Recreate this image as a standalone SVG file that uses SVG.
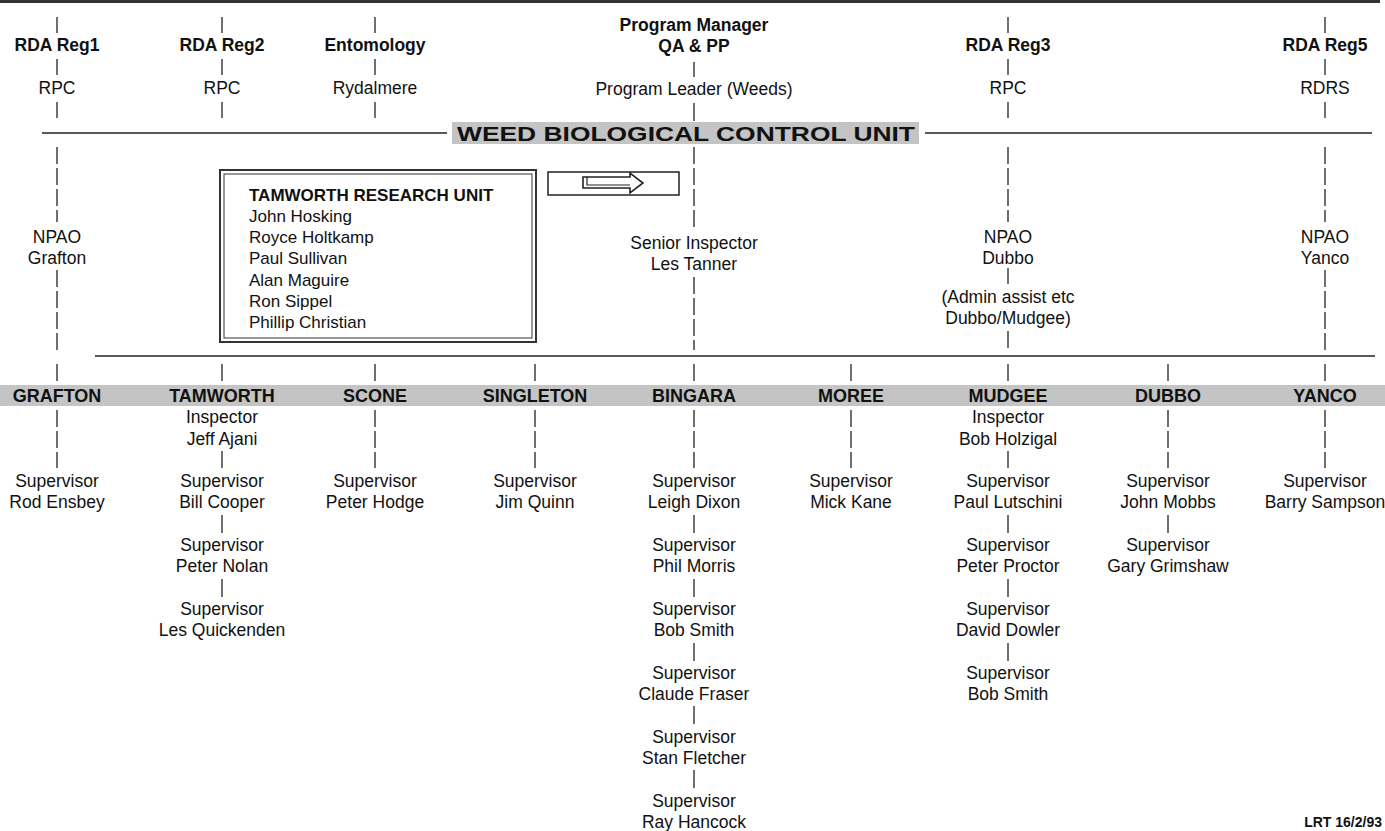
<svg xmlns="http://www.w3.org/2000/svg" width="1385" height="831" viewBox="0 0 1385 831">
<defs>
<style>
.t{font-family:"Liberation Sans",Arial,sans-serif;font-size:17.5px;fill:#111;text-anchor:middle}
.b{font-weight:bold}
.bl{font-weight:bold;font-size:18px}
.l{text-anchor:start;font-size:17px}
#connectors line{stroke:#222;stroke-width:1.3;fill:none}
#connectors line.d{stroke-dasharray:17 4}
.shade{fill:#c4c4c4}
</style>
</defs>
<rect width="1385" height="831" fill="#fff"/>
<rect x="0" y="0" width="1380" height="3" fill="#333"/>

<g id="connectors">
  <!-- top ticks -->
  <line x1="57" y1="17" x2="57" y2="33"/><line x1="57" y1="59" x2="57" y2="75"/><line x1="57" y1="102" x2="57" y2="118"/>
  <line x1="222" y1="17" x2="222" y2="33"/><line x1="222" y1="59" x2="222" y2="75"/><line x1="222" y1="102" x2="222" y2="118"/>
  <line x1="375" y1="17" x2="375" y2="33"/><line x1="375" y1="59" x2="375" y2="75"/><line x1="375" y1="102" x2="375" y2="118"/>
  <line x1="1008" y1="17" x2="1008" y2="33"/><line x1="1008" y1="59" x2="1008" y2="75"/><line x1="1008" y1="102" x2="1008" y2="118"/>
  <line x1="1325" y1="17" x2="1325" y2="33"/><line x1="1325" y1="59" x2="1325" y2="75"/><line x1="1325" y1="102" x2="1325" y2="118"/>
  <line x1="694" y1="62" x2="694" y2="77"/><line x1="694" y1="103" x2="694" y2="121"/>
  <!-- divider 1 -->
  <line x1="42" y1="133" x2="447" y2="133"/>
  <line x1="925" y1="133" x2="1372" y2="133"/>
  <!-- middle verticals -->
  <line class="d" x1="57" y1="147" x2="57" y2="222"/><line class="d" x1="57" y1="270" x2="57" y2="350"/>
  <line class="d" x1="694" y1="147" x2="694" y2="228"/><line class="d" x1="694" y1="277" x2="694" y2="350"/>
  <line class="d" x1="1325" y1="147" x2="1325" y2="222"/><line class="d" x1="1325" y1="270" x2="1325" y2="350"/>
  <line class="d" x1="1008" y1="147" x2="1008" y2="222"/><line x1="1008" y1="268" x2="1008" y2="284"/><line x1="1008" y1="331" x2="1008" y2="348"/>
  <!-- divider 2 -->
  <line x1="95" y1="356" x2="1375" y2="356"/>
  <!-- ticks above location band -->
  <line x1="57" y1="364" x2="57" y2="381"/><line x1="222" y1="364" x2="222" y2="381"/><line x1="375" y1="364" x2="375" y2="381"/>
  <line x1="535" y1="364" x2="535" y2="381"/><line x1="694" y1="364" x2="694" y2="381"/><line x1="851" y1="364" x2="851" y2="381"/>
  <line x1="1008" y1="364" x2="1008" y2="381"/><line x1="1168" y1="364" x2="1168" y2="381"/><line x1="1325" y1="364" x2="1325" y2="381"/>
  <!-- below band -->
  <line class="d" x1="57" y1="410" x2="57" y2="468"/>
  <line class="d" x1="375" y1="410" x2="375" y2="468"/>
  <line class="d" x1="535" y1="410" x2="535" y2="468"/>
  <line class="d" x1="694" y1="410" x2="694" y2="468"/>
  <line class="d" x1="851" y1="410" x2="851" y2="468"/>
  <line class="d" x1="1168" y1="410" x2="1168" y2="468"/>
  <line class="d" x1="1325" y1="410" x2="1325" y2="468"/>
  <line x1="222" y1="451" x2="222" y2="468"/><line x1="1008" y1="451" x2="1008" y2="468"/>
  <!-- chains -->
  <line x1="222" y1="515" x2="222" y2="533"/><line x1="222" y1="579" x2="222" y2="597"/>
  <line x1="694" y1="515" x2="694" y2="533"/><line x1="694" y1="579" x2="694" y2="597"/><line x1="694" y1="643" x2="694" y2="661"/><line x1="694" y1="706" x2="694" y2="724"/><line x1="694" y1="770" x2="694" y2="788"/>
  <line x1="1008" y1="515" x2="1008" y2="533"/><line x1="1008" y1="579" x2="1008" y2="597"/><line x1="1008" y1="643" x2="1008" y2="661"/>
  <line x1="1168" y1="515" x2="1168" y2="533"/>
</g>

<!-- top row -->
<g id="rda-reg1"><text class="t b" x="57" y="51">RDA Reg1</text></g>
<g id="rpc1"><text class="t" x="57" y="94">RPC</text></g>
<g id="rda-reg2"><text class="t b" x="222" y="51">RDA Reg2</text></g>
<g id="rpc2"><text class="t" x="222" y="94">RPC</text></g>
<g id="entomology"><text class="t b" x="375" y="51">Entomology</text></g>
<g id="rydalmere"><text class="t" x="375" y="94">Rydalmere</text></g>
<g id="program-manager"><text class="t b" x="694" y="31">Program Manager</text><text class="t b" x="694" y="52">QA &amp; PP</text></g>
<g id="program-leader"><text class="t" x="694" y="95">Program Leader (Weeds)</text></g>
<g id="rda-reg3"><text class="t b" x="1008" y="51">RDA Reg3</text></g>
<g id="rpc3"><text class="t" x="1008" y="94">RPC</text></g>
<g id="rda-reg5"><text class="t b" x="1325" y="51">RDA Reg5</text></g>
<g id="rdrs"><text class="t" x="1325" y="94">RDRS</text></g>

<!-- unit banner -->
<g id="weed-unit">
  <rect class="shade" x="452" y="122" width="467" height="22"/>
  <text class="t b" x="686" y="141" style="font-size:21px" textLength="458" lengthAdjust="spacingAndGlyphs">WEED BIOLOGICAL CONTROL UNIT</text>
</g>

<!-- middle -->
<g id="npao-grafton"><text class="t" x="57" y="243">NPAO</text><text class="t" x="57" y="264">Grafton</text></g>
<g id="tamworth-research-unit">
  <rect x="220" y="170" width="316" height="172" fill="none" stroke="#333" stroke-width="2"/>
  <rect x="224" y="174" width="308" height="164" fill="none" stroke="#333" stroke-width="1"/>
  <text class="t l b" x="249" y="201">TAMWORTH RESEARCH UNIT</text>
  <text class="t l" x="249" y="222">John Hosking</text>
  <text class="t l" x="249" y="243">Royce Holtkamp</text>
  <text class="t l" x="249" y="264">Paul Sullivan</text>
  <text class="t l" x="249" y="286">Alan Maguire</text>
  <text class="t l" x="249" y="307">Ron Sippel</text>
  <text class="t l" x="249" y="328">Phillip Christian</text>
</g>
<g id="arrow-box">
  <rect x="548" y="172" width="131" height="23" fill="none" stroke="#222" stroke-width="1.5"/>
  <polygon points="583,177 630,177 630,173 643,183 630,193 630,188 583,188" fill="none" stroke="#222" stroke-width="1.6"/>
  <polyline points="587,177 587,185 630,185" fill="none" stroke="#222" stroke-width="1.2"/>
</g>
<g id="senior-inspector"><text class="t" x="694" y="249">Senior Inspector</text><text class="t" x="694" y="270">Les Tanner</text></g>
<g id="npao-dubbo"><text class="t" x="1008" y="243">NPAO</text><text class="t" x="1008" y="264">Dubbo</text></g>
<g id="admin-assist"><text class="t" x="1008" y="303">(Admin assist etc</text><text class="t" x="1008" y="324">Dubbo/Mudgee)</text></g>
<g id="npao-yanco"><text class="t" x="1325" y="243">NPAO</text><text class="t" x="1325" y="264">Yanco</text></g>

<!-- location band -->
<rect class="shade" x="0" y="385" width="1385" height="21"/>
<g id="grafton"><text class="t bl" x="57" y="402">GRAFTON</text></g>
<g id="tamworth"><text class="t bl" x="222" y="402">TAMWORTH</text></g>
<g id="scone"><text class="t bl" x="375" y="402">SCONE</text></g>
<g id="singleton"><text class="t bl" x="535" y="402">SINGLETON</text></g>
<g id="bingara"><text class="t bl" x="694" y="402">BINGARA</text></g>
<g id="moree"><text class="t bl" x="851" y="402">MOREE</text></g>
<g id="mudgee"><text class="t bl" x="1008" y="402">MUDGEE</text></g>
<g id="dubbo"><text class="t bl" x="1168" y="402">DUBBO</text></g>
<g id="yanco"><text class="t bl" x="1325" y="402">YANCO</text></g>

<!-- staff -->
<g id="rod-ensbey"><text class="t" x="57" y="487">Supervisor</text><text class="t" x="57" y="508">Rod Ensbey</text></g>
<g id="jeff-ajani"><text class="t" x="222" y="423">Inspector</text><text class="t" x="222" y="445">Jeff Ajani</text></g>
<g id="bill-cooper"><text class="t" x="222" y="487">Supervisor</text><text class="t" x="222" y="508">Bill Cooper</text></g>
<g id="peter-nolan"><text class="t" x="222" y="551">Supervisor</text><text class="t" x="222" y="572">Peter Nolan</text></g>
<g id="les-quickenden"><text class="t" x="222" y="615">Supervisor</text><text class="t" x="222" y="636">Les Quickenden</text></g>
<g id="peter-hodge"><text class="t" x="375" y="487">Supervisor</text><text class="t" x="375" y="508">Peter Hodge</text></g>
<g id="jim-quinn"><text class="t" x="535" y="487">Supervisor</text><text class="t" x="535" y="508">Jim Quinn</text></g>
<g id="leigh-dixon"><text class="t" x="694" y="487">Supervisor</text><text class="t" x="694" y="508">Leigh Dixon</text></g>
<g id="phil-morris"><text class="t" x="694" y="551">Supervisor</text><text class="t" x="694" y="572">Phil Morris</text></g>
<g id="bob-smith-1"><text class="t" x="694" y="615">Supervisor</text><text class="t" x="694" y="636">Bob Smith</text></g>
<g id="claude-fraser"><text class="t" x="694" y="679">Supervisor</text><text class="t" x="694" y="700">Claude Fraser</text></g>
<g id="stan-fletcher"><text class="t" x="694" y="743">Supervisor</text><text class="t" x="694" y="764">Stan Fletcher</text></g>
<g id="ray-hancock"><text class="t" x="694" y="807">Supervisor</text><text class="t" x="694" y="828">Ray Hancock</text></g>
<g id="mick-kane"><text class="t" x="851" y="487">Supervisor</text><text class="t" x="851" y="508">Mick Kane</text></g>
<g id="bob-holzigal"><text class="t" x="1008" y="423">Inspector</text><text class="t" x="1008" y="445">Bob Holzigal</text></g>
<g id="paul-lutschini"><text class="t" x="1008" y="487">Supervisor</text><text class="t" x="1008" y="508">Paul Lutschini</text></g>
<g id="peter-proctor"><text class="t" x="1008" y="551">Supervisor</text><text class="t" x="1008" y="572">Peter Proctor</text></g>
<g id="david-dowler"><text class="t" x="1008" y="615">Supervisor</text><text class="t" x="1008" y="636">David Dowler</text></g>
<g id="bob-smith-2"><text class="t" x="1008" y="679">Supervisor</text><text class="t" x="1008" y="700">Bob Smith</text></g>
<g id="john-mobbs"><text class="t" x="1168" y="487">Supervisor</text><text class="t" x="1168" y="508">John Mobbs</text></g>
<g id="gary-grimshaw"><text class="t" x="1168" y="551">Supervisor</text><text class="t" x="1168" y="572">Gary Grimshaw</text></g>
<g id="barry-sampson"><text class="t" x="1325" y="487">Supervisor</text><text class="t" x="1325" y="508">Barry Sampson</text></g>

<g id="footer"><text class="t b" x="1382" y="827" style="font-size:14px;text-anchor:end">LRT 16/2/93</text></g>
</svg>
